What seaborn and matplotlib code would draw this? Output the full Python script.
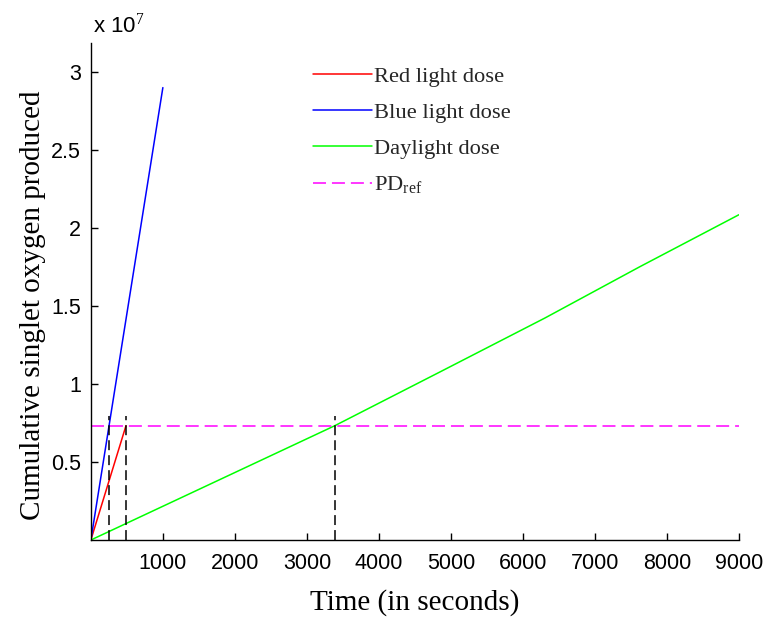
import pandas as pd
import matplotlib
matplotlib.use("Agg")
import matplotlib.pyplot as plt
import seaborn as sns

# values (time in s, cumulative singlet oxygen)
red_t = [0, 488]
red_y = [0.0, 0.733e7]

blue_t = [0, 1000]
blue_y = [0.0, 2.9e7]

green_t = [0, 495, 3389, 4847, 6306, 7625, 9000]
green_y = [0.0, 0.107e7, 0.733e7, 1.077e7, 1.423e7, 1.752e7, 2.085e7]

pd_ref = 0.733e7
cross_t = [254, 488, 3395]
cross_top = 0.795e7

sns.set_theme(style="white")
plt.rcParams["font.family"] = ["Liberation Sans", "DejaVu Sans"]
plt.rcParams["mathtext.fontset"] = "custom"
plt.rcParams["mathtext.rm"] = "Liberation Serif"

fig = plt.figure(figsize=(7.7, 6.24), dpi=100)
ax = fig.add_axes([0.118, 0.1346, 0.8416, 0.7965])

series = pd.concat([
    pd.DataFrame({"t": red_t, "y": red_y, "dose": "Red light dose"}),
    pd.DataFrame({"t": blue_t, "y": blue_y, "dose": "Blue light dose"}),
    pd.DataFrame({"t": green_t, "y": green_y, "dose": "Daylight dose"}),
])
palette = {"Red light dose": "#ff0000", "Blue light dose": "#0000ff",
           "Daylight dose": "#00ff00"}
sns.lineplot(data=series, x="t", y="y", hue="dose", palette=palette,
             linewidth=1.1, ax=ax, legend=False)

for name, c in palette.items():
    ax.plot([], [], color=c, linewidth=1.1, label=name)

ax.plot([0, 9000], [pd_ref, pd_ref], color="#ff00ff", linewidth=1.1,
        dashes=(8.5, 3.9), label=r"PD$_{\mathrm{ref}}$")
for t in cross_t:
    ax.plot([t, t], [0, cross_top], color="black", linewidth=1.1,
            dashes=(6.5, 3.3))

ax.set_xlim(0, 9000)
ax.set_ylim(0, 3.186e7)
ax.set_xticks(range(1000, 9001, 1000))
ax.set_yticks([0.5e7, 1e7, 1.5e7, 2e7, 2.5e7, 3e7])
ax.set_yticklabels(["0.5", "1", "1.5", "2", "2.5", "3"])
ax.tick_params(direction="in", length=5, width=1, colors="black",
               labelsize=15.5, left=True, bottom=True)
ax.tick_params(axis="x", pad=9)
ax.tick_params(axis="y", pad=7)
for side in ["top", "right"]:
    ax.spines[side].set_visible(False)
for side in ["left", "bottom"]:
    ax.spines[side].set_color("black")
    ax.spines[side].set_linewidth(1.0)

ax.set_xlabel("Time (in seconds)", family="Liberation Serif", fontsize=21,
              color="black", labelpad=11)
ax.set_ylabel("Cumulative singlet oxygen produced", family="Liberation Serif",
              fontsize=21, color="black")
ax.yaxis.set_label_coords(-0.069, 0.473)
fig.text(0.121, 0.94, r"x 10$^{7}$", fontsize=16, color="black",
         ha="left", va="bottom")

ax.legend(loc="upper left", bbox_to_anchor=(0.343, 0.953), frameon=False,
          handlelength=2.6, labelspacing=0.68, handletextpad=0.12,
          borderaxespad=0, borderpad=0,
          prop={"family": "Liberation Serif", "size": 16.2})

fig.savefig("out.png", dpi=100, facecolor="white")
